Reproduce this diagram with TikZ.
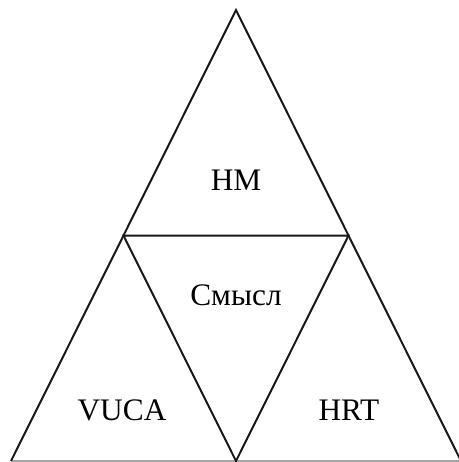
\documentclass[tikz,border=0pt]{standalone}
\usepackage{fontspec}
\setmainfont{Liberation Serif}
\begin{document}
\begin{tikzpicture}[x=0.75pt,y=-0.75pt,
  edge/.style={line width=1.5pt,line join=miter,black!90},
  lbl/.style={font=\fontsize{23.5}{27}\selectfont,inner sep=0pt}]
\useasboundingbox (0,0) rectangle (459,462);
\coordinate (A) at (236,10);
\coordinate (L) at (11,461);
\coordinate (R) at (461,461);
\coordinate (ML) at (123.5,235.5);
\coordinate (MR) at (348.5,235.5);
\coordinate (MB) at (236,461);
\coordinate (E) at (459,461);
\draw[gray!70,line width=0.8pt] (L) -- (E);
\draw[edge] (L) -- (A) -- (R);
\draw[edge] (ML) -- (MR) -- (MB) -- cycle;
\node[lbl] (hm) at (236,180) {HM};
\node[lbl] (sm) at (236,295) {Смысл};
\node[lbl] (vu) at (122,410) {VUCA};
\node[lbl] (hr) at (349,410) {HRT};
\end{tikzpicture}
\end{document}
